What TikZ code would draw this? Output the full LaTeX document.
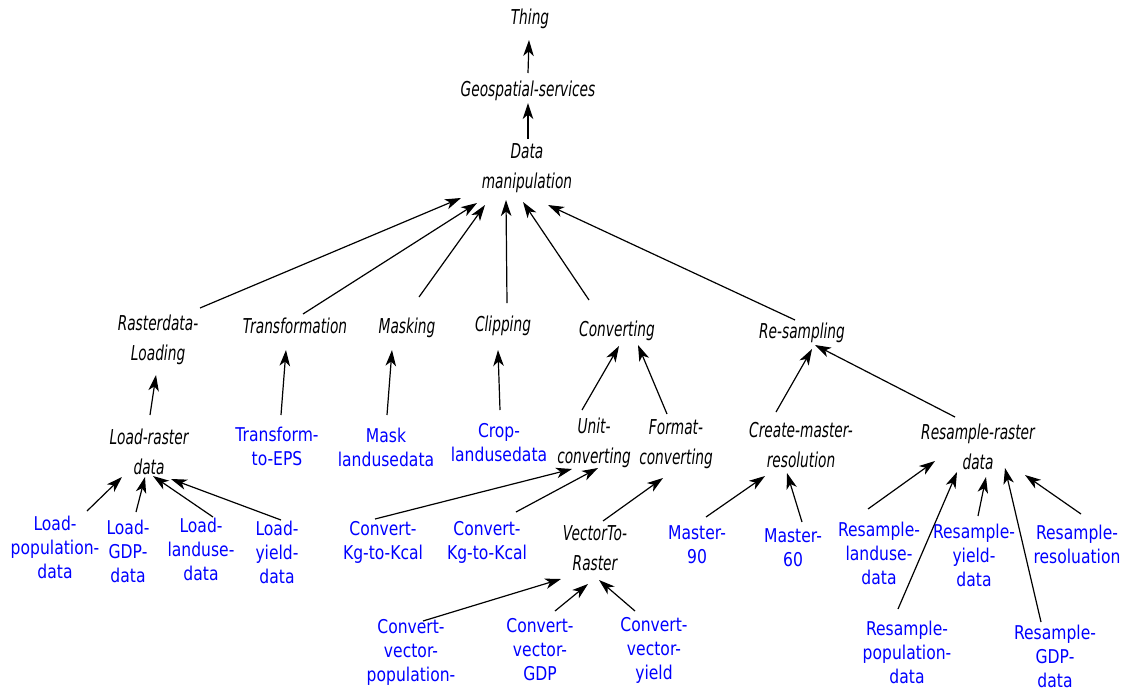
\documentclass[tikz,border=0pt]{standalone}
\usepackage{fontspec}
\usetikzlibrary{arrows.meta}
\newfontfamily\classfont[FakeStretch=0.67]{DejaVu Sans}
\newfontfamily\instfont[FakeStretch=0.82]{DejaVu Sans}
% child -> parent, each end given as an offset from the node centre
\newcommand\linkarrow[4]{\draw[arr] ([shift={(#2)}]#1.center) -- ([shift={(#4)}]#3.center);}
\begin{document}
\begin{tikzpicture}[x=1pt,y=-1pt,
  cls/.style={align=center,inner sep=0pt,font=\classfont\itshape\fontsize{20.5}{29.5}\selectfont},
  inst/.style={align=center,inner sep=0pt,text=blue,font=\instfont\fontsize{19}{24}\selectfont},
  arr/.style={line width=1.2pt,-{Stealth[length=16pt,width=10.5pt,inset=4.5pt]}}]
\useasboundingbox (0,0) rectangle (1127,691);

% class hierarchy
\node[cls] (thing) at (530,19) {Thing};
\node[cls] (geo) at (528,91) {Geospatial-services};
\node[cls] (dm) at (527,168) {Data\\manipulation};
\node[cls] (rl) at (158,340) {Rasterdata-\\Loading};
\node[cls] (tr) at (295,326) {Transformation};
\node[cls] (mk) at (407,328) {Masking};
\node[cls] (cl) at (503,326) {Clipping};
\node[cls] (cv) at (617,331) {Converting};
\node[cls] (rs) at (802,333) {Re-sampling};
\node[cls] (lrd) at (149,452) {Load-raster\\data};
\node[cls] (uc) at (594,443) {Unit-\\converting};
\node[cls] (fc) at (676,444) {Format-\\converting};
\node[cls] (cmr) at (801,445) {Create-master-\\resolution};
\node[cls] (rrd) at (978,447) {Resample-raster\\data};
\node[cls] (vtr) at (595,548) {VectorTo-\\Raster};

% instances
\node[inst] (tte) at (277,446) {Transform-\\to-EPS};
\node[inst] (mld) at (386,447) {Mask\\landusedata};
\node[inst] (cld) at (499,443) {Crop-\\landusedata};
\node[inst] (lpd) at (55,547) {Load-\\population-\\data};
\node[inst] (lgd) at (128,551) {Load-\\GDP-\\data};
\node[inst] (lld) at (201,549) {Load-\\landuse-\\data};
\node[inst] (lyd) at (277,552) {Load-\\yield-\\data};
\node[inst] (ck1) at (383,542) {Convert-\\Kg-to-Kcal};
\node[inst] (ck2) at (487,542) {Convert-\\Kg-to-Kcal};
\node[inst] (m90) at (697,545) {Master-\\90};
\node[inst] (m60) at (793,548) {Master-\\60};
\node[inst] (rld) at (879,553) {Resample-\\landuse-\\data};
\node[inst] (ryd) at (974,555) {Resample-\\yield-\\data};
\node[inst] (rro) at (1077,544) {Resample-\\resoluation};
\node[inst] (cvp) at (411,652) {Convert-\\vector-\\population-};
\node[inst] (cvg) at (540,650) {Convert-\\vector-\\GDP};
\node[inst] (cvy) at (654,650) {Convert-\\vector-\\yield};
\node[inst] (rpd) at (907,652) {Resample-\\population-\\data};
\node[inst] (rgd) at (1055,656) {Resample-\\GDP-\\data};

% subclass and instance-of links
\linkarrow{geo}{0,-18}{thing}{-1,21}
\linkarrow{dm}{1,-29}{geo}{0,12}
\linkarrow{rl}{42,-32}{dm}{-66,30}
\linkarrow{tr}{8,-12}{dm}{-50,35}
\linkarrow{mk}{12,-31}{dm}{-42,37}
\linkarrow{cl}{4,-23}{dm}{-21,32}
\linkarrow{cv}{-28,-31}{dm}{-4,34}
\linkarrow{rs}{-7,-13}{dm}{21,37}
\linkarrow{lrd}{1,-37}{rl}{-2,35}
\linkarrow{tte}{4,-31}{tr}{-9,24}
\linkarrow{mld}{1,-32}{mk}{-15,22}
\linkarrow{cld}{1,-33}{cl}{-5,24}
\linkarrow{uc}{-12,-33}{cv}{2,15}
\linkarrow{fc}{-9,-30}{cv}{21,14}
\linkarrow{cmr}{-25,-33}{rs}{10,16}
\linkarrow{rrd}{-23,-30}{rs}{13,12}
\linkarrow{lpd}{32,-36}{lrd}{-27,25}
\linkarrow{lgd}{8,-39}{lrd}{-4,25}
\linkarrow{lld}{12,-32}{lrd}{4,24}
\linkarrow{lyd}{4,-32}{lrd}{22,27}
\linkarrow{ck1}{-8,-23}{uc}{-22,26}
\linkarrow{ck2}{29,-30}{uc}{4,25}
\linkarrow{vtr}{8,-27}{fc}{-13,34}
\linkarrow{m90}{9,-28}{cmr}{-36,31}
\linkarrow{m60}{9,-26}{cmr}{-14,28}
\linkarrow{rld}{-11,-44}{rrd}{-43,14}
\linkarrow{rpd}{-9,-43}{rrd}{-21,25}
\linkarrow{ryd}{4,-39}{rrd}{8,30}
\linkarrow{rgd}{-14,-34}{rrd}{27,21}
\linkarrow{rro}{4,-30}{rrd}{47,28}
\linkarrow{cvp}{12,-31}{vtr}{-34,31}
\linkarrow{cvg}{15,-39}{vtr}{-7,36}
\linkarrow{cvy}{-19,-39}{vtr}{4,32}
\end{tikzpicture}
\end{document}
